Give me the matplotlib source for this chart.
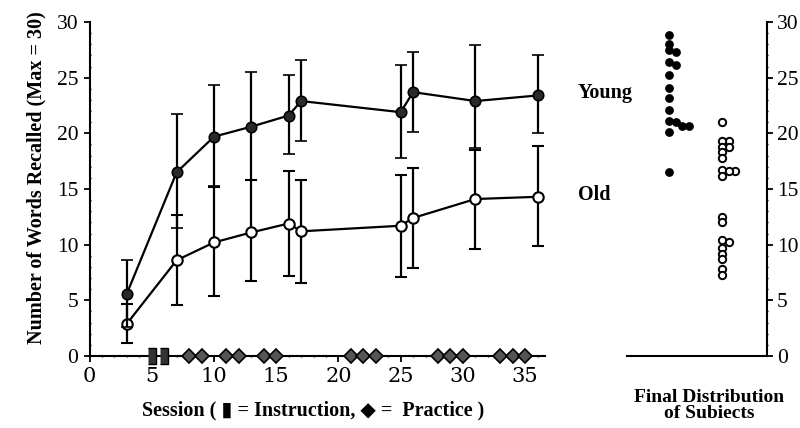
import numpy as np
import matplotlib.pyplot as plt
from matplotlib.ticker import MultipleLocator

plt.rcParams['font.family'] = ['Liberation Serif', 'DejaVu Sans']

# sessions and group means / error-bar ends
sessions = [3, 7, 10, 13, 16, 17, 25, 26, 31, 36]
young_mean = [5.6, 16.5, 19.7, 20.6, 21.6, 22.9, 21.9, 23.7, 22.9, 23.4]
young_lo = [2.6, 11.5, 15.3, 15.8, 18.1, 19.3, 17.8, 20.1, 18.7, 20.0]
young_hi = [8.6, 21.7, 24.3, 25.5, 25.2, 26.6, 26.1, 27.3, 27.9, 27.0]
old_mean = [2.9, 8.6, 10.2, 11.1, 11.9, 11.2, 11.7, 12.4, 14.1, 14.3]
old_lo = [1.2, 4.6, 5.4, 6.7, 7.2, 6.6, 7.1, 7.9, 9.6, 9.9]
old_hi = [4.7, 12.7, 15.2, 15.8, 16.6, 15.8, 16.3, 16.9, 18.5, 18.9]

instruction_sessions = [5, 6]
practice_sessions = [8, 9, 11, 12, 14, 15, 21, 22, 23, 28, 29, 30, 33, 34, 35]

# final scores of individual subjects
young_final = [28.8, 28.0, 27.5, 27.3, 26.4, 26.1, 25.2, 24.1, 23.2, 22.1,
               21.1, 21.0, 20.7, 20.7, 20.1, 16.5]
old_final = [21.0, 19.3, 19.3, 18.8, 18.8, 18.3, 17.8, 16.7, 16.6, 16.6,
             16.2, 12.5, 12.0, 10.4, 10.2, 9.7, 9.2, 8.7, 7.8, 7.3]


def swarm_slots(vals, tol=0.45):
    # push dots that would overlap sideways, like a dot plot
    order = np.argsort(vals, kind='stable')[::-1]
    last = []
    slots = np.zeros(len(vals), int)
    for i in order:
        v = vals[i]
        k = 0
        while k < len(last) and abs(last[k] - v) < tol:
            k += 1
        if k == len(last):
            last.append(v)
        else:
            last[k] = v
        slots[i] = k
    return slots


fig = plt.figure(figsize=(8, 4.28), dpi=100)
ax = fig.add_axes([0.1119, 0.1682, 0.5694, 0.7804])

ym = np.array(young_mean)
om = np.array(old_mean)
ax.errorbar(sessions, om, yerr=[om - np.array(old_lo), np.array(old_hi) - om],
            fmt='-o', color='black', lw=1.6, elinewidth=1.6, capsize=4, capthick=1.5,
            ms=7.5, mfc='white', mec='black', mew=1.5, zorder=3)
ax.errorbar(sessions, ym, yerr=[ym - np.array(young_lo), np.array(young_hi) - ym],
            fmt='-o', color='black', lw=1.6, elinewidth=1.6, capsize=4, capthick=1.5,
            ms=7.5, mfc='#2a2a2a', mec='black', mew=1.2, zorder=4)

# session type markers along the axis
ax.plot(instruction_sessions, [0] * len(instruction_sessions), ls='none',
        marker=[(-0.55, -1), (0.55, -1), (0.55, 1), (-0.55, 1)], ms=11,
        mfc='#333333', mec='black', mew=1, clip_on=False, zorder=5)
ax.plot(practice_sessions, [0] * len(practice_sessions), ls='none', marker='D',
        ms=7.5, mfc='#555555', mec='black', mew=1.2, clip_on=False, zorder=5)

ax.set_xlim(0, 36.6)
ax.set_ylim(0, 30)
ax.spines['top'].set_visible(False)
ax.spines['right'].set_visible(False)
for s in ['left', 'bottom']:
    ax.spines[s].set_linewidth(1.5)
ax.xaxis.set_major_locator(MultipleLocator(5))
ax.xaxis.set_minor_locator(MultipleLocator(1))
ax.yaxis.set_major_locator(MultipleLocator(5))
ax.yaxis.set_minor_locator(MultipleLocator(1))
ax.tick_params(which='major', length=4, width=1.3, direction='out')
ax.tick_params(which='minor', length=2, width=1, direction='inout')
ax.tick_params(axis='y', labelsize=15.5, pad=4)
ax.tick_params(axis='x', pad=4)
for lab in ax.get_xticklabels():
    lab.set_fontfamily('DejaVu Serif')
    lab.set_fontsize(15)

# right panel: final distribution
ax2 = fig.add_axes([0.7838, 0.1682, 0.175, 0.7804])
ax2.set_xlim(0, 1)
ax2.set_ylim(0, 30)
step = 0.047
ys = swarm_slots(young_final)
os_ = swarm_slots(old_final)
ax2.plot(0.30 + step * ys, young_final, ls='none', marker='o', ms=5.3,
         mfc='black', mec='black', clip_on=False)
ax2.plot(0.68 + step * os_, old_final, ls='none', marker='o', ms=5.3,
         mfc='white', mec='black', mew=1.4, clip_on=False)
ax2.spines['top'].set_visible(False)
ax2.spines['left'].set_visible(False)
ax2.spines['right'].set_linewidth(1.5)
ax2.spines['bottom'].set_linewidth(1.5)
ax2.yaxis.tick_right()
ax2.set_xticks([])
ax2.yaxis.set_major_locator(MultipleLocator(5))
ax2.yaxis.set_minor_locator(MultipleLocator(1))
ax2.tick_params(which='major', length=4, width=1.3, direction='out', labelsize=15.5, pad=3)
ax2.tick_params(which='minor', length=2, width=1, direction='inout')

fig.text(0.7225, 0.783, 'Young', fontsize=14.5, fontweight='bold',
         ha='left', va='center')
fig.text(0.7225, 0.544, 'Old', fontsize=14.5, fontweight='bold',
         ha='left', va='center')
fig.text(0.046, 0.585, 'Number of Words Recalled (Max = 30)', rotation=90,
         fontsize=14.5, fontweight='bold', ha='center', va='center')
fig.text(0.391, 0.042, 'Session ( \u25ae = Instruction, \u25c6 =  Practice )',
         fontsize=14.5, fontweight='bold', ha='center', va='center')
fig.text(0.886, 0.052, 'Final Distribution\nof Subiects', fontsize=14,
         fontweight='bold', ha='center', va='center', linespacing=0.95)

fig.savefig('out.png', dpi=100)
